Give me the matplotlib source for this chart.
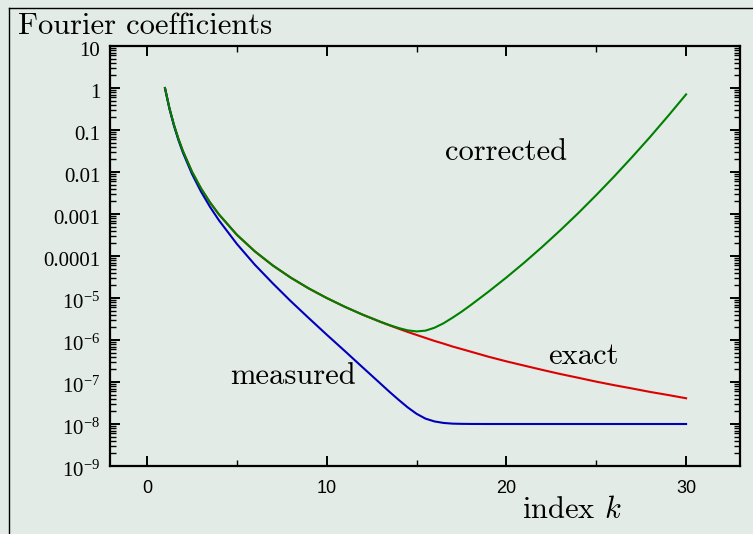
import numpy as np
import matplotlib
matplotlib.use("Agg")
import matplotlib.pyplot as plt
import matplotlib.transforms as mtransforms
from matplotlib.ticker import LogLocator, NullFormatter, MultipleLocator
from matplotlib.lines import Line2D

## data
k = [1, 1.25, 1.5, 1.75, 2, 2.5, 3, 3.5, 4, 5, 6, 7, 8, 9, 10, 11, 12, 13,
     13.5, 14, 14.5, 15, 15.5, 16, 16.5, 17, 17.5, 18, 19, 20, 21, 22, 23,
     24, 25, 26, 27, 28, 29, 30]

exact = [1.0, 0.328, 0.132, 0.061, 0.0313, 0.0102, 0.0041, 0.0019, 9.8e-4,
         3.2e-4, 1.29e-4, 5.95e-5, 3.05e-5, 1.69e-5, 1.0e-5, 6.2e-6, 4.0e-6,
         2.69e-6, 2.23e-6, 1.86e-6, 1.56e-6, 1.32e-6, 1.12e-6, 9.5e-7, 8.2e-7,
         7.0e-7, 6.1e-7, 5.3e-7, 4.0e-7, 3.1e-7, 2.45e-7, 1.94e-7, 1.55e-7,
         1.26e-7, 1.02e-7, 8.4e-8, 7.0e-8, 5.8e-8, 4.9e-8, 4.1e-8]

measured = [0.98, 0.318, 0.126, 0.0573, 0.0288, 0.00903, 0.00344, 0.00149,
            7.1e-4, 1.94e-4, 6.2e-5, 2.23e-5, 8.4e-6, 3.33e-6, 1.34e-6,
            5.5e-7, 2.23e-7, 9.1e-8, 5.8e-8, 3.77e-8, 2.5e-8, 1.75e-8,
            1.34e-8, 1.15e-8, 1.06e-8, 1.02e-8, 1.008e-8, 1.003e-8, 1.0e-8,
            1.0e-8, 1.0e-8, 1.0e-8, 1.0e-8, 1.0e-8, 1.0e-8, 1.0e-8, 1.0e-8,
            1.0e-8, 1.0e-8, 1.0e-8]

corrected = [1.0, 0.328, 0.132, 0.061, 0.0313, 0.0102, 0.0041, 0.0019, 9.8e-4,
             3.2e-4, 1.29e-4, 5.95e-5, 3.05e-5, 1.69e-5, 1.0e-5, 6.2e-6,
             4.02e-6, 2.71e-6, 2.26e-6, 1.93e-6, 1.70e-6, 1.60e-6, 1.67e-6,
             1.96e-6, 2.5e-6, 3.39e-6, 4.7e-6, 6.7e-6, 1.41e-5, 3.08e-5,
             7.0e-5, 1.66e-4, 4.1e-4, 1.05e-3, 2.82e-3, 7.85e-3, 0.0228,
             0.0686, 0.216, 0.705]

yticks = [10, 1, 0.1, 0.01, 0.001, 1e-4, 1e-5, 1e-6, 1e-7, 1e-8, 1e-9]
ylabels = ['10', '1', '0.1', '0.01', '0.001', '0.0001', r'$10^{-5}$',
           r'$10^{-6}$', r'$10^{-7}$', r'$10^{-8}$', r'$10^{-9}$']
xticks = [0, 10, 20, 30]

bg = '#e3ebe7'
plt.rcParams['mathtext.fontset'] = 'custom'
plt.rcParams['mathtext.rm'] = 'Liberation Serif'
plt.rcParams['mathtext.it'] = 'Liberation Serif:italic'

fig = plt.figure(figsize=(7.53, 5.34), dpi=100, facecolor=bg)
ax = fig.add_axes([110/753, 1-466/534, 630/753, 420/534], facecolor=bg)

ax.plot(k, exact, color='#dd0000', lw=1.5)
ax.plot(k, measured, color='#0000bb', lw=1.5)
ax.plot(k, corrected, color='#008000', lw=1.5)

ax.set_yscale('log')
ax.set_xlim(-2.06, 33.0)
ax.set_ylim(1e-9, 10)

ax.set_yticks(yticks)
ax.set_yticklabels(ylabels, fontfamily='Liberation Serif', fontsize=15)
ax.yaxis.set_minor_locator(LogLocator(base=10, subs=np.arange(2, 10), numticks=100))
ax.yaxis.set_minor_formatter(NullFormatter())
ax.set_xticks(xticks)
ax.set_xticklabels([str(t) for t in xticks], fontfamily='Liberation Sans', fontsize=13)
ax.xaxis.set_minor_locator(MultipleLocator(5))

ax.tick_params(which='both', direction='in', top=True, right=True, color='black')
ax.tick_params(which='major', length=7, width=1.4)
ax.tick_params(which='minor', length=4, width=1.0)
ax.tick_params(axis='x', pad=10)
ax.tick_params(axis='y', pad=7)
for s in ax.spines.values():
    s.set_linewidth(1.6)

# y labels sit a little below their ticks in the reference
shift = mtransforms.ScaledTranslation(0, -3/100, fig.dpi_scale_trans)
for lbl in ax.get_yticklabels():
    lbl.set_transform(lbl.get_transform() + shift)

# curve labels
lab = dict(fontfamily='cmr10', fontsize=22, ha='center', va='center', math_fontfamily='cm')
ax.text(19.98, 0.03, 'corrected', **lab)
ax.text(24.3, 4e-7, 'exact', **lab)
ax.text(8.12, 1.4e-7, 'measured', **lab)

fig.text(18/753, 1-34/534, 'Fourier coefficients', fontfamily='cmr10', fontsize=22,
         ha='left', va='baseline', math_fontfamily='cm')
fig.text(572/753, 1-518/534, 'index $k$', fontfamily='cmr10', fontsize=22,
         ha='center', va='baseline', math_fontfamily='cm')

# outer frame
fig.add_artist(Line2D([8.5/753, 8.5/753], [0, 1-7.5/534], color='black', lw=1.0,
                      transform=fig.transFigure))
fig.add_artist(Line2D([8.5/753, 1], [1-7.5/534, 1-7.5/534], color='black', lw=1.0,
                      transform=fig.transFigure))

fig.savefig('out.png', dpi=100, facecolor=bg)
